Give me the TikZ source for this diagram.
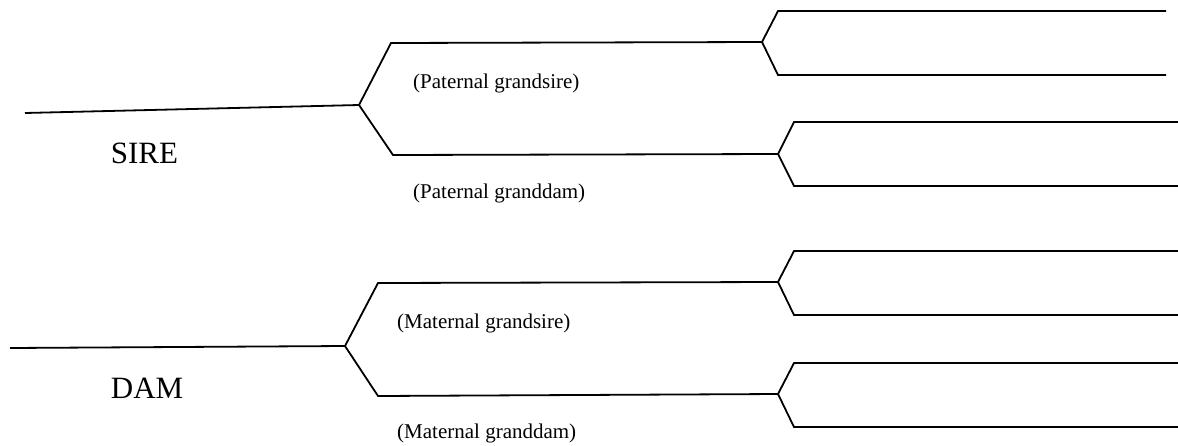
\documentclass[tikz,border=0pt]{standalone}
\usepackage{fontspec}
\setmainfont{Liberation Serif}
\usetikzlibrary{positioning}
\tikzset{branch/.style = {line width=1.8pt, line join=miter},
         bigname/.style = {font=\fontsize{31}{36}\selectfont, inner sep=0pt, anchor=base west},
         smallname/.style = {font=\fontsize{21}{25}\selectfont, inner sep=0pt, anchor=base west}}

\begin{document}
\begin{tikzpicture}[x=1pt,y=-1pt]
        \useasboundingbox (0,0) rectangle (1178,445);
        % sire side
        \coordinate (sirestart) at (25,113);
        \coordinate (sirefork) at (359,105);
        \coordinate (pgsstart) at (391,43);
        \coordinate (pgsfork) at (762,42);
        \coordinate (pgdstart) at (393,155);
        \coordinate (pgdfork) at (778,154);
        % dam side
        \coordinate (damstart) at (10,348);
        \coordinate (damfork) at (345,346);
        \coordinate (mgsstart) at (378,283);
        \coordinate (mgsfork) at (778,282);
        \coordinate (mgdstart) at (378,396);
        \coordinate (mgdfork) at (778,394);
        % great-grandparents
        \coordinate (g1a) at (778,11);   \coordinate (g1b) at (1166,11);
        \coordinate (g2a) at (778,75);   \coordinate (g2b) at (1166,75);
        \coordinate (g3a) at (794,122);  \coordinate (g3b) at (1178,122);
        \coordinate (g4a) at (794,186);  \coordinate (g4b) at (1178,186);
        \coordinate (g5a) at (794,251);  \coordinate (g5b) at (1178,251);
        \coordinate (g6a) at (794,315);  \coordinate (g6b) at (1178,315);
        \coordinate (g7a) at (794,363);  \coordinate (g7b) at (1178,363);
        \coordinate (g8a) at (794,427);  \coordinate (g8b) at (1178,427);

        \draw[branch] (sirestart) -- (sirefork);
        \draw[branch] (sirefork) -- (pgsstart) -- (pgsfork);
        \draw[branch] (sirefork) -- (pgdstart) -- (pgdfork);
        \draw[branch] (damstart) -- (damfork);
        \draw[branch] (damfork) -- (mgsstart) -- (mgsfork);
        \draw[branch] (damfork) -- (mgdstart) -- (mgdfork);
        \draw[branch] (pgsfork) -- (g1a) -- (g1b);
        \draw[branch] (pgsfork) -- (g2a) -- (g2b);
        \draw[branch] (pgdfork) -- (g3a) -- (g3b);
        \draw[branch] (pgdfork) -- (g4a) -- (g4b);
        \draw[branch] (mgsfork) -- (g5a) -- (g5b);
        \draw[branch] (mgsfork) -- (g6a) -- (g6b);
        \draw[branch] (mgdfork) -- (g7a) -- (g7b);
        \draw[branch] (mgdfork) -- (g8a) -- (g8b);

        \node[bigname] (sire) at (110.7,163.3) {SIRE};
        \node[bigname] (dam) at (110.7,398.5) {DAM};
        \node[smallname] (pgs) at (413,88.5) {(Paternal grandsire)};
        \node[smallname] (pgd) at (413,198.5) {(Paternal granddam)};
        \node[smallname] (mgs) at (397,328.5) {(Maternal grandsire)};
        \node[smallname] (mgd) at (397,438.5) {(Maternal granddam)};
    \end{tikzpicture}
\end{document}
